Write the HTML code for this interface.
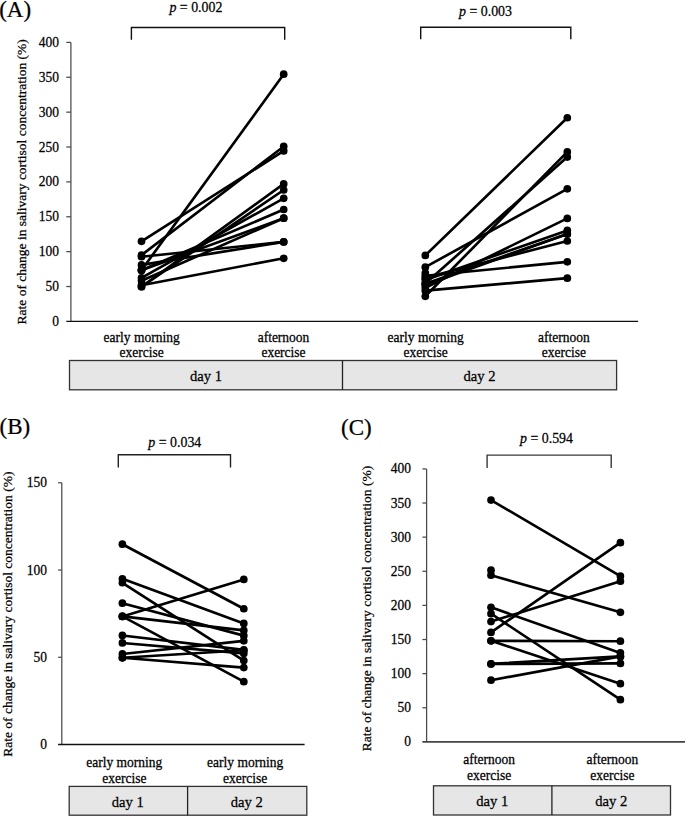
<!DOCTYPE html>
<html><head><meta charset="utf-8"><style>
html,body{margin:0;padding:0;background:#fff;}
body{width:685px;height:816px;overflow:hidden;}
svg{display:block;font-family:"Liberation Serif", serif;fill:#000;}
text{stroke:#000;stroke-width:0.25px;}
</style></head><body>
<svg width="685" height="816" viewBox="0 0 685 816">
<text transform="translate(-0.80,16.75) scale(1,0.98)" font-size="23" text-anchor="start" >(A)</text>
<line x1="70.90" y1="42.40" x2="70.90" y2="321.40" stroke="#4a4a4a" stroke-width="1.25" />
<text transform="translate(58.90,325.90) scale(1,1.04)" font-size="13.5" text-anchor="end" >0</text>
<line x1="66.30" y1="286.52" x2="70.90" y2="286.52" stroke="#4a4a4a" stroke-width="1.25" />
<text transform="translate(58.90,291.02) scale(1,1.04)" font-size="13.5" text-anchor="end" >50</text>
<line x1="66.30" y1="251.65" x2="70.90" y2="251.65" stroke="#4a4a4a" stroke-width="1.25" />
<text transform="translate(58.90,256.15) scale(1,1.04)" font-size="13.5" text-anchor="end" >100</text>
<line x1="66.30" y1="216.77" x2="70.90" y2="216.77" stroke="#4a4a4a" stroke-width="1.25" />
<text transform="translate(58.90,221.27) scale(1,1.04)" font-size="13.5" text-anchor="end" >150</text>
<line x1="66.30" y1="181.90" x2="70.90" y2="181.90" stroke="#4a4a4a" stroke-width="1.25" />
<text transform="translate(58.90,186.40) scale(1,1.04)" font-size="13.5" text-anchor="end" >200</text>
<line x1="66.30" y1="147.02" x2="70.90" y2="147.02" stroke="#4a4a4a" stroke-width="1.25" />
<text transform="translate(58.90,151.52) scale(1,1.04)" font-size="13.5" text-anchor="end" >250</text>
<line x1="66.30" y1="112.15" x2="70.90" y2="112.15" stroke="#4a4a4a" stroke-width="1.25" />
<text transform="translate(58.90,116.65) scale(1,1.04)" font-size="13.5" text-anchor="end" >300</text>
<line x1="66.30" y1="77.27" x2="70.90" y2="77.27" stroke="#4a4a4a" stroke-width="1.25" />
<text transform="translate(58.90,81.77) scale(1,1.04)" font-size="13.5" text-anchor="end" >350</text>
<line x1="66.30" y1="42.40" x2="70.90" y2="42.40" stroke="#4a4a4a" stroke-width="1.25" />
<text transform="translate(58.90,46.90) scale(1,1.04)" font-size="13.5" text-anchor="end" >400</text>
<line x1="66.30" y1="321.40" x2="638.10" y2="321.40" stroke="#111" stroke-width="1.4" />
<text transform="translate(25.50,181.80) rotate(-90)" font-size="13.5" text-anchor="middle">Rate of change in salivary cortisol concentration (%)</text>
<path d="M131.4,39.7 V27.5 H284.7 V39.7" fill="none" stroke="#111" stroke-width="1.4"/>
<text transform="translate(169.40,11.80) scale(1,1.04)" font-size="13.9"><tspan font-style="italic">p</tspan> = 0.002</text>
<path d="M420.7,39.2 V27.3 H570.8 V39.2" fill="none" stroke="#111" stroke-width="1.4"/>
<text transform="translate(459.00,16.20) scale(1,1.04)" font-size="13.9"><tspan font-style="italic">p</tspan> = 0.003</text>
<line x1="141.50" y1="241.33" x2="283.70" y2="150.93" stroke="#000" stroke-width="2.65" stroke-linecap="round"/>
<line x1="141.50" y1="255.14" x2="283.70" y2="146.47" stroke="#000" stroke-width="2.65" stroke-linecap="round"/>
<line x1="141.50" y1="256.74" x2="283.70" y2="241.88" stroke="#000" stroke-width="2.65" stroke-linecap="round"/>
<line x1="141.50" y1="264.90" x2="283.70" y2="241.88" stroke="#000" stroke-width="2.65" stroke-linecap="round"/>
<line x1="141.50" y1="270.20" x2="283.70" y2="74.21" stroke="#000" stroke-width="2.65" stroke-linecap="round"/>
<line x1="141.50" y1="270.20" x2="283.70" y2="209.52" stroke="#000" stroke-width="2.65" stroke-linecap="round"/>
<line x1="141.50" y1="270.20" x2="283.70" y2="218.17" stroke="#000" stroke-width="2.65" stroke-linecap="round"/>
<line x1="141.50" y1="277.81" x2="283.70" y2="198.36" stroke="#000" stroke-width="2.65" stroke-linecap="round"/>
<line x1="141.50" y1="280.81" x2="283.70" y2="218.17" stroke="#000" stroke-width="2.65" stroke-linecap="round"/>
<line x1="141.50" y1="285.20" x2="283.70" y2="258.28" stroke="#000" stroke-width="2.65" stroke-linecap="round"/>
<line x1="141.50" y1="286.73" x2="283.70" y2="183.92" stroke="#000" stroke-width="2.65" stroke-linecap="round"/>
<line x1="141.50" y1="286.73" x2="283.70" y2="189.99" stroke="#000" stroke-width="2.65" stroke-linecap="round"/>
<circle cx="141.5" cy="241.33" r="3.85"/>
<circle cx="283.7" cy="150.93" r="3.85"/>
<circle cx="141.5" cy="255.14" r="3.85"/>
<circle cx="283.7" cy="146.47" r="3.85"/>
<circle cx="141.5" cy="256.74" r="3.85"/>
<circle cx="283.7" cy="241.88" r="3.85"/>
<circle cx="141.5" cy="264.90" r="3.85"/>
<circle cx="283.7" cy="241.88" r="3.85"/>
<circle cx="141.5" cy="270.20" r="3.85"/>
<circle cx="283.7" cy="74.21" r="3.85"/>
<circle cx="141.5" cy="270.20" r="3.85"/>
<circle cx="283.7" cy="209.52" r="3.85"/>
<circle cx="141.5" cy="270.20" r="3.85"/>
<circle cx="283.7" cy="218.17" r="3.85"/>
<circle cx="141.5" cy="277.81" r="3.85"/>
<circle cx="283.7" cy="198.36" r="3.85"/>
<circle cx="141.5" cy="280.81" r="3.85"/>
<circle cx="283.7" cy="218.17" r="3.85"/>
<circle cx="141.5" cy="285.20" r="3.85"/>
<circle cx="283.7" cy="258.28" r="3.85"/>
<circle cx="141.5" cy="286.73" r="3.85"/>
<circle cx="283.7" cy="183.92" r="3.85"/>
<circle cx="141.5" cy="286.73" r="3.85"/>
<circle cx="283.7" cy="189.99" r="3.85"/>
<line x1="425.30" y1="255.42" x2="567.30" y2="117.73" stroke="#000" stroke-width="2.65" stroke-linecap="round"/>
<line x1="425.30" y1="267.13" x2="567.30" y2="188.87" stroke="#000" stroke-width="2.65" stroke-linecap="round"/>
<line x1="425.30" y1="296.29" x2="567.30" y2="151.91" stroke="#000" stroke-width="2.65" stroke-linecap="round"/>
<line x1="425.30" y1="283.60" x2="567.30" y2="157.07" stroke="#000" stroke-width="2.65" stroke-linecap="round"/>
<line x1="425.30" y1="287.85" x2="567.30" y2="218.38" stroke="#000" stroke-width="2.65" stroke-linecap="round"/>
<line x1="425.30" y1="279.97" x2="567.30" y2="230.38" stroke="#000" stroke-width="2.65" stroke-linecap="round"/>
<line x1="425.30" y1="283.73" x2="567.30" y2="233.93" stroke="#000" stroke-width="2.65" stroke-linecap="round"/>
<line x1="425.30" y1="284.99" x2="567.30" y2="233.93" stroke="#000" stroke-width="2.65" stroke-linecap="round"/>
<line x1="425.30" y1="277.88" x2="567.30" y2="240.98" stroke="#000" stroke-width="2.65" stroke-linecap="round"/>
<line x1="425.30" y1="275.78" x2="567.30" y2="261.83" stroke="#000" stroke-width="2.65" stroke-linecap="round"/>
<line x1="425.30" y1="290.64" x2="567.30" y2="278.15" stroke="#000" stroke-width="2.65" stroke-linecap="round"/>
<circle cx="425.3" cy="255.42" r="3.85"/>
<circle cx="567.3" cy="117.73" r="3.85"/>
<circle cx="425.3" cy="267.13" r="3.85"/>
<circle cx="567.3" cy="188.87" r="3.85"/>
<circle cx="425.3" cy="296.29" r="3.85"/>
<circle cx="567.3" cy="151.91" r="3.85"/>
<circle cx="425.3" cy="283.60" r="3.85"/>
<circle cx="567.3" cy="157.07" r="3.85"/>
<circle cx="425.3" cy="287.85" r="3.85"/>
<circle cx="567.3" cy="218.38" r="3.85"/>
<circle cx="425.3" cy="279.97" r="3.85"/>
<circle cx="567.3" cy="230.38" r="3.85"/>
<circle cx="425.3" cy="283.73" r="3.85"/>
<circle cx="567.3" cy="233.93" r="3.85"/>
<circle cx="425.3" cy="284.99" r="3.85"/>
<circle cx="567.3" cy="233.93" r="3.85"/>
<circle cx="425.3" cy="277.88" r="3.85"/>
<circle cx="567.3" cy="240.98" r="3.85"/>
<circle cx="425.3" cy="275.78" r="3.85"/>
<circle cx="567.3" cy="261.83" r="3.85"/>
<circle cx="425.3" cy="290.64" r="3.85"/>
<circle cx="567.3" cy="278.15" r="3.85"/>
<circle cx="425.3" cy="272.99" r="3.85"/>
<text transform="translate(141.60,342.00) scale(1,1.04)" font-size="13.5" text-anchor="middle" >early morning</text>
<text transform="translate(141.60,357.40) scale(1,1.04)" font-size="13.5" text-anchor="middle" >exercise</text>
<text transform="translate(283.50,342.00) scale(1,1.04)" font-size="13.5" text-anchor="middle" >afternoon</text>
<text transform="translate(283.50,357.40) scale(1,1.04)" font-size="13.5" text-anchor="middle" >exercise</text>
<text transform="translate(425.60,342.00) scale(1,1.04)" font-size="13.5" text-anchor="middle" >early morning</text>
<text transform="translate(425.60,357.40) scale(1,1.04)" font-size="13.5" text-anchor="middle" >exercise</text>
<text transform="translate(563.80,342.00) scale(1,1.04)" font-size="13.5" text-anchor="middle" >afternoon</text>
<text transform="translate(563.80,357.40) scale(1,1.04)" font-size="13.5" text-anchor="middle" >exercise</text>
<rect x="69.5" y="360.5" width="547.1" height="29.30000000000001" fill="#e6e6e6" stroke="#333" stroke-width="1.3"/>
<line x1="342.50" y1="360.50" x2="342.50" y2="389.80" stroke="#222" stroke-width="1.3" />
<text transform="translate(206.00,380.50) scale(1,1.04)" font-size="14.6" text-anchor="middle" >day 1</text>
<text transform="translate(479.50,380.50) scale(1,1.04)" font-size="14.6" text-anchor="middle" >day 2</text>
<text transform="translate(-0.50,434.10) scale(1,0.98)" font-size="23" text-anchor="start" >(B)</text>
<line x1="61.80" y1="482.80" x2="61.80" y2="744.50" stroke="#4a4a4a" stroke-width="1.25" />
<text transform="translate(47.00,749.00) scale(1,1.04)" font-size="13.5" text-anchor="end" >0</text>
<line x1="58.10" y1="657.27" x2="61.80" y2="657.27" stroke="#4a4a4a" stroke-width="1.25" />
<text transform="translate(47.00,661.77) scale(1,1.04)" font-size="13.5" text-anchor="end" >50</text>
<line x1="58.10" y1="570.04" x2="61.80" y2="570.04" stroke="#4a4a4a" stroke-width="1.25" />
<text transform="translate(47.00,574.54) scale(1,1.04)" font-size="13.5" text-anchor="end" >100</text>
<line x1="58.10" y1="482.81" x2="61.80" y2="482.81" stroke="#4a4a4a" stroke-width="1.25" />
<text transform="translate(47.00,487.31) scale(1,1.04)" font-size="13.5" text-anchor="end" >150</text>
<line x1="58.10" y1="744.50" x2="304.60" y2="744.50" stroke="#111" stroke-width="1.4" />
<text transform="translate(12.30,614.20) rotate(-90)" font-size="13.5" text-anchor="middle">Rate of change in salivary cortisol concentration (%)</text>
<path d="M118.3,467.6 V454.8 H230.5 V467.6" fill="none" stroke="#222" stroke-width="1.4"/>
<text transform="translate(148.30,447.20) scale(1,1.04)" font-size="13.9"><tspan font-style="italic">p</tspan> = 0.034</text>
<line x1="122.40" y1="544.21" x2="243.80" y2="608.76" stroke="#000" stroke-width="2.65" stroke-linecap="round"/>
<line x1="122.40" y1="578.75" x2="243.80" y2="623.42" stroke="#000" stroke-width="2.65" stroke-linecap="round"/>
<line x1="122.40" y1="582.77" x2="243.80" y2="660.58" stroke="#000" stroke-width="2.65" stroke-linecap="round"/>
<line x1="122.40" y1="603.18" x2="243.80" y2="635.63" stroke="#000" stroke-width="2.65" stroke-linecap="round"/>
<line x1="122.40" y1="616.44" x2="243.80" y2="579.45" stroke="#000" stroke-width="2.65" stroke-linecap="round"/>
<line x1="122.40" y1="616.44" x2="243.80" y2="630.40" stroke="#000" stroke-width="2.65" stroke-linecap="round"/>
<line x1="122.40" y1="616.44" x2="243.80" y2="681.69" stroke="#000" stroke-width="2.65" stroke-linecap="round"/>
<line x1="122.40" y1="635.46" x2="243.80" y2="649.94" stroke="#000" stroke-width="2.65" stroke-linecap="round"/>
<line x1="122.40" y1="642.96" x2="243.80" y2="653.43" stroke="#000" stroke-width="2.65" stroke-linecap="round"/>
<line x1="122.40" y1="653.95" x2="243.80" y2="640.86" stroke="#000" stroke-width="2.65" stroke-linecap="round"/>
<line x1="122.40" y1="657.79" x2="243.80" y2="650.29" stroke="#000" stroke-width="2.65" stroke-linecap="round"/>
<line x1="122.40" y1="657.79" x2="243.80" y2="667.56" stroke="#000" stroke-width="2.65" stroke-linecap="round"/>
<circle cx="122.4" cy="544.21" r="3.85"/>
<circle cx="243.8" cy="608.76" r="3.85"/>
<circle cx="122.4" cy="578.75" r="3.85"/>
<circle cx="243.8" cy="623.42" r="3.85"/>
<circle cx="122.4" cy="582.77" r="3.85"/>
<circle cx="243.8" cy="660.58" r="3.85"/>
<circle cx="122.4" cy="603.18" r="3.85"/>
<circle cx="243.8" cy="635.63" r="3.85"/>
<circle cx="122.4" cy="616.44" r="3.85"/>
<circle cx="243.8" cy="579.45" r="3.85"/>
<circle cx="122.4" cy="616.44" r="3.85"/>
<circle cx="243.8" cy="630.40" r="3.85"/>
<circle cx="122.4" cy="616.44" r="3.85"/>
<circle cx="243.8" cy="681.69" r="3.85"/>
<circle cx="122.4" cy="635.46" r="3.85"/>
<circle cx="243.8" cy="649.94" r="3.85"/>
<circle cx="122.4" cy="642.96" r="3.85"/>
<circle cx="243.8" cy="653.43" r="3.85"/>
<circle cx="122.4" cy="653.95" r="3.85"/>
<circle cx="243.8" cy="640.86" r="3.85"/>
<circle cx="122.4" cy="657.79" r="3.85"/>
<circle cx="243.8" cy="650.29" r="3.85"/>
<circle cx="122.4" cy="657.79" r="3.85"/>
<circle cx="243.8" cy="667.56" r="3.85"/>
<text transform="translate(124.30,766.80) scale(1,1.04)" font-size="13.5" text-anchor="middle" >early morning</text>
<text transform="translate(124.30,783.00) scale(1,1.04)" font-size="13.5" text-anchor="middle" >exercise</text>
<text transform="translate(245.10,766.80) scale(1,1.04)" font-size="13.5" text-anchor="middle" >early morning</text>
<text transform="translate(245.10,783.00) scale(1,1.04)" font-size="13.5" text-anchor="middle" >exercise</text>
<rect x="69.2" y="786.4" width="237.60000000000002" height="28.800000000000068" fill="#e6e6e6" stroke="#333" stroke-width="1.3"/>
<line x1="187.60" y1="786.40" x2="187.60" y2="815.20" stroke="#222" stroke-width="1.3" />
<text transform="translate(127.80,806.70) scale(1,1.04)" font-size="14.6" text-anchor="middle" >day 1</text>
<text transform="translate(246.80,806.70) scale(1,1.04)" font-size="14.6" text-anchor="middle" >day 2</text>
<text transform="translate(341.00,435.00) scale(1,0.98)" font-size="23" text-anchor="start" >(C)</text>
<line x1="426.60" y1="469.00" x2="426.60" y2="741.90" stroke="#4a4a4a" stroke-width="1.25" />
<text transform="translate(411.10,746.40) scale(1,1.04)" font-size="13.5" text-anchor="end" >0</text>
<line x1="422.40" y1="707.77" x2="426.60" y2="707.77" stroke="#4a4a4a" stroke-width="1.25" />
<text transform="translate(411.10,712.27) scale(1,1.04)" font-size="13.5" text-anchor="end" >50</text>
<line x1="422.40" y1="673.65" x2="426.60" y2="673.65" stroke="#4a4a4a" stroke-width="1.25" />
<text transform="translate(411.10,678.15) scale(1,1.04)" font-size="13.5" text-anchor="end" >100</text>
<line x1="422.40" y1="639.52" x2="426.60" y2="639.52" stroke="#4a4a4a" stroke-width="1.25" />
<text transform="translate(411.10,644.02) scale(1,1.04)" font-size="13.5" text-anchor="end" >150</text>
<line x1="422.40" y1="605.40" x2="426.60" y2="605.40" stroke="#4a4a4a" stroke-width="1.25" />
<text transform="translate(411.10,609.90) scale(1,1.04)" font-size="13.5" text-anchor="end" >200</text>
<line x1="422.40" y1="571.27" x2="426.60" y2="571.27" stroke="#4a4a4a" stroke-width="1.25" />
<text transform="translate(411.10,575.77) scale(1,1.04)" font-size="13.5" text-anchor="end" >250</text>
<line x1="422.40" y1="537.15" x2="426.60" y2="537.15" stroke="#4a4a4a" stroke-width="1.25" />
<text transform="translate(411.10,541.65) scale(1,1.04)" font-size="13.5" text-anchor="end" >300</text>
<line x1="422.40" y1="503.02" x2="426.60" y2="503.02" stroke="#4a4a4a" stroke-width="1.25" />
<text transform="translate(411.10,507.52) scale(1,1.04)" font-size="13.5" text-anchor="end" >350</text>
<line x1="422.40" y1="468.90" x2="426.60" y2="468.90" stroke="#4a4a4a" stroke-width="1.25" />
<text transform="translate(411.10,473.40) scale(1,1.04)" font-size="13.5" text-anchor="end" >400</text>
<line x1="422.40" y1="741.90" x2="685.00" y2="741.90" stroke="#444" stroke-width="1.6" />
<text transform="translate(371.30,608.50) rotate(-90)" font-size="13.5" text-anchor="middle">Rate of change in salivary cortisol concentration (%)</text>
<path d="M487.1,468.1 V455.1 H611.2 V468.1" fill="none" stroke="#383838" stroke-width="1.4"/>
<text transform="translate(520.00,443.40) scale(1,1.04)" font-size="13.9"><tspan font-style="italic">p</tspan> = 0.594</text>
<line x1="491.00" y1="500.10" x2="620.40" y2="576.10" stroke="#000" stroke-width="2.65" stroke-linecap="round"/>
<line x1="491.00" y1="575.20" x2="620.40" y2="612.30" stroke="#000" stroke-width="2.65" stroke-linecap="round"/>
<line x1="491.00" y1="632.40" x2="620.40" y2="542.70" stroke="#000" stroke-width="2.65" stroke-linecap="round"/>
<line x1="491.00" y1="621.60" x2="620.40" y2="581.20" stroke="#000" stroke-width="2.65" stroke-linecap="round"/>
<line x1="491.00" y1="607.30" x2="620.40" y2="652.90" stroke="#000" stroke-width="2.65" stroke-linecap="round"/>
<line x1="491.00" y1="613.70" x2="620.40" y2="699.70" stroke="#000" stroke-width="2.65" stroke-linecap="round"/>
<line x1="491.00" y1="640.80" x2="620.40" y2="641.20" stroke="#000" stroke-width="2.65" stroke-linecap="round"/>
<line x1="491.00" y1="640.80" x2="620.40" y2="683.70" stroke="#000" stroke-width="2.65" stroke-linecap="round"/>
<line x1="491.00" y1="663.90" x2="620.40" y2="663.40" stroke="#000" stroke-width="2.65" stroke-linecap="round"/>
<line x1="491.00" y1="663.90" x2="620.40" y2="656.40" stroke="#000" stroke-width="2.65" stroke-linecap="round"/>
<line x1="491.00" y1="680.20" x2="620.40" y2="656.40" stroke="#000" stroke-width="2.65" stroke-linecap="round"/>
<circle cx="491.0" cy="500.10" r="3.85"/>
<circle cx="620.4" cy="576.10" r="3.85"/>
<circle cx="491.0" cy="575.20" r="3.85"/>
<circle cx="620.4" cy="612.30" r="3.85"/>
<circle cx="491.0" cy="632.40" r="3.85"/>
<circle cx="620.4" cy="542.70" r="3.85"/>
<circle cx="491.0" cy="621.60" r="3.85"/>
<circle cx="620.4" cy="581.20" r="3.85"/>
<circle cx="491.0" cy="607.30" r="3.85"/>
<circle cx="620.4" cy="652.90" r="3.85"/>
<circle cx="491.0" cy="613.70" r="3.85"/>
<circle cx="620.4" cy="699.70" r="3.85"/>
<circle cx="491.0" cy="640.80" r="3.85"/>
<circle cx="620.4" cy="641.20" r="3.85"/>
<circle cx="491.0" cy="640.80" r="3.85"/>
<circle cx="620.4" cy="683.70" r="3.85"/>
<circle cx="491.0" cy="663.90" r="3.85"/>
<circle cx="620.4" cy="663.40" r="3.85"/>
<circle cx="491.0" cy="663.90" r="3.85"/>
<circle cx="620.4" cy="656.40" r="3.85"/>
<circle cx="491.0" cy="680.20" r="3.85"/>
<circle cx="620.4" cy="656.40" r="3.85"/>
<circle cx="491.0" cy="570.20" r="3.85"/>
<text transform="translate(489.20,764.20) scale(1,1.04)" font-size="13.5" text-anchor="middle" >afternoon</text>
<text transform="translate(489.20,780.00) scale(1,1.04)" font-size="13.5" text-anchor="middle" >exercise</text>
<text transform="translate(612.30,764.20) scale(1,1.04)" font-size="13.5" text-anchor="middle" >afternoon</text>
<text transform="translate(612.30,780.00) scale(1,1.04)" font-size="13.5" text-anchor="middle" >exercise</text>
<rect x="433.5" y="785.8" width="237.0" height="29.200000000000045" fill="#e6e6e6" stroke="#333" stroke-width="1.3"/>
<line x1="551.90" y1="785.80" x2="551.90" y2="815.00" stroke="#222" stroke-width="1.3" />
<text transform="translate(492.20,805.50) scale(1,1.04)" font-size="14.6" text-anchor="middle" >day 1</text>
<text transform="translate(611.20,805.50) scale(1,1.04)" font-size="14.6" text-anchor="middle" >day 2</text>
</svg>
</body></html>
